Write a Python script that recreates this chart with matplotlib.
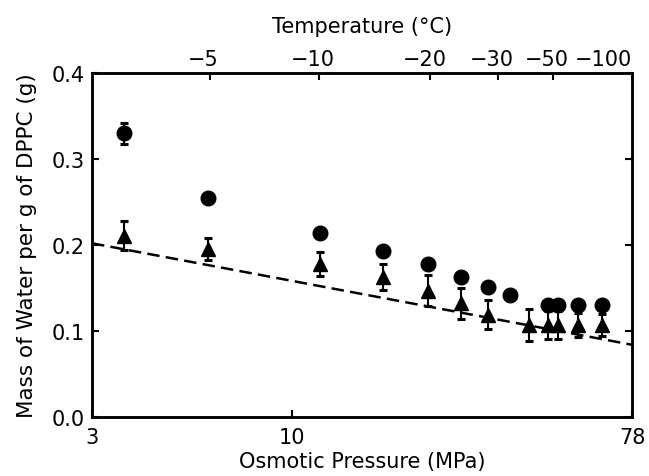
import matplotlib
matplotlib.use('Agg')
import matplotlib.pyplot as plt
import matplotlib.transforms as mtransforms

# ---- data ----
pressure_circles = [3.63, 6.05, 11.84, 17.4, 22.8, 27.8, 32.8, 37.4, 47.1, 50.0, 56.4, 65.0]
water_circles = [0.330, 0.255, 0.214, 0.193, 0.178, 0.163, 0.151, 0.142, 0.130, 0.130, 0.130, 0.130]
err_circles = [0.012, 0, 0, 0, 0, 0, 0, 0, 0, 0, 0, 0]

pressure_triangles = [3.63, 6.05, 11.84, 17.4, 22.8, 27.8, 32.8, 41.9, 47.1, 50.0, 56.4, 65.0]
water_triangles = [0.211, 0.195, 0.178, 0.163, 0.147, 0.132, 0.119, 0.107, 0.107, 0.107, 0.107, 0.107]
err_triangles = [0.017, 0.013, 0.014, 0.015, 0.018, 0.018, 0.017, 0.019, 0.016, 0.016, 0.014, 0.013]

fit_pressure = [3, 78]
fit_water = [0.202, 0.084]

bottom_ticks = [3, 10, 78]
bottom_labels = ['3', '10', '78']
y_ticks = [0.0, 0.1, 0.2, 0.3, 0.4]
y_labels = ['0.0', '0.1', '0.2', '0.3', '0.4']
temp_labels = ['\u22125', '\u221210', '\u221220', '\u221230', '\u221250', '\u2212100']
temp_pressures = [6.1, 11.8, 23.1, 34.7, 48.3, 78]

plt.rcParams['font.family'] = ['DejaVu Sans']
fs = 15

fig = plt.figure(figsize=(6.49, 4.77), dpi=100)
ax = fig.add_axes([92/649, 1-418/477, (632-92)/649, (418-74)/477])

ax.errorbar(pressure_circles, water_circles, yerr=err_circles, fmt='o', color='black',
            markersize=10.5, elinewidth=1.5, capsize=3, capthick=2.2, zorder=3)
ax.errorbar(pressure_triangles, water_triangles, yerr=err_triangles, fmt='^', color='black',
            markersize=10.5, elinewidth=1.5, capsize=3, capthick=2.2, zorder=3)
ax.plot(fit_pressure, fit_water, color='black', lw=1.8, dashes=(5, 2.5), zorder=2)

ax.set_xscale('log')
ax.set_xlim(3, 78)
ax.set_ylim(0, 0.4)
ax.xaxis.set_minor_locator(matplotlib.ticker.NullLocator())
ax.set_xticks(bottom_ticks)
ax.set_xticklabels(bottom_labels, fontsize=fs)
ax.set_yticks(y_ticks)
ax.set_yticklabels(y_labels, fontsize=fs)
ax.tick_params(axis='both', direction='in', length=5, width=1.5, right=True, pad=5)
ax.tick_params(axis='x', pad=7)
for s in ax.spines.values():
    s.set_linewidth(1.8)

ax.set_xlabel('Osmotic Pressure (MPa)', fontsize=fs, labelpad=3)
ax.set_ylabel('Mass of Water per g of DPPC (g)', fontsize=15.5, labelpad=11)

ax2 = ax.twiny()
ax2.set_xscale('log')
ax2.set_xlim(3, 78)
ax2.xaxis.set_minor_locator(matplotlib.ticker.NullLocator())
ax2.set_xticks(temp_pressures)
ax2.set_xticklabels(temp_labels, fontsize=fs)
ax2.tick_params(axis='x', direction='in', length=5, width=1.5, pad=3)
ax2.set_xlabel('Temperature (\u00b0C)', fontsize=fs, labelpad=12)
for s in ax2.spines.values():
    s.set_linewidth(1.8)

offset = mtransforms.ScaledTranslation(-6/100, 0, fig.dpi_scale_trans)
labs = ax2.get_xticklabels()
for lab in labs[:-1]:
    lab.set_transform(lab.get_transform() + offset)
labs[-1].set_horizontalalignment('right')

fig.savefig('out.png', dpi=100)
